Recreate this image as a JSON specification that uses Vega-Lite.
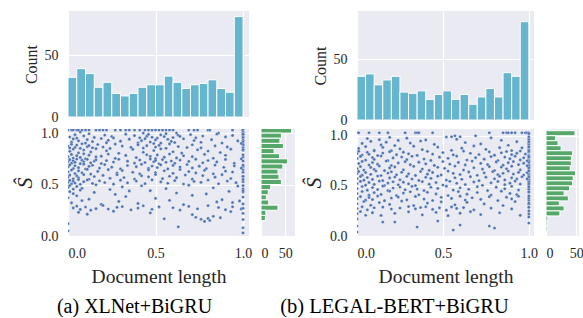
{
"$schema":"https://vega.github.io/schema/vega-lite/v6.json",
"padding":{"left":13,"top":8,"right":2,"bottom":2},
"config":{
"font":"Liberation Serif",
"view":{"fill":"#eaeaf2","stroke":null},
"axis":{"domain":false,"ticks":false,"gridColor":"#ffffff","gridWidth":1.2,"labelFont":"Liberation Serif","labelFontSize":14,"labelColor":"#262626","titleFont":"Liberation Serif","titleFontWeight":"normal","titleColor":"#262626","labelPadding":10}
},
"columns":5,
"spacing":{"row":9,"column":12},
"bounds":"flush",
"resolve":{"scale":{"x":"independent","y":"independent"}},
"concat":[
{
"width":181,"height":106,
"data":{"values":[{"b0":0,"b1":0.05,"n":32},{"b0":0.05,"b1":0.1,"n":39},{"b0":0.1,"b1":0.15,"n":35},{"b0":0.15,"b1":0.2,"n":24},{"b0":0.2,"b1":0.25,"n":28},{"b0":0.25,"b1":0.3,"n":19},{"b0":0.3,"b1":0.35,"n":17},{"b0":0.35,"b1":0.4,"n":19},{"b0":0.4,"b1":0.45,"n":24},{"b0":0.45,"b1":0.5,"n":26},{"b0":0.5,"b1":0.55,"n":26},{"b0":0.55,"b1":0.6,"n":33},{"b0":0.6,"b1":0.65,"n":28},{"b0":0.65,"b1":0.7,"n":23},{"b0":0.7,"b1":0.75,"n":26},{"b0":0.75,"b1":0.8,"n":27},{"b0":0.8,"b1":0.85,"n":30},{"b0":0.85,"b1":0.9,"n":23},{"b0":0.9,"b1":0.95,"n":20},{"b0":0.95,"b1":1,"n":81}]},
"mark":{"type":"rect","color":"#64b5cd","stroke":"#ffffff","strokeWidth":1},
"encoding":{
"x":{"field":"b0","type":"quantitative","scale":{"domain":[0,1.034],"nice":false,"zero":false},"axis":{"values":[0,0.5,1],"labels":false,"title":null}},
"x2":{"field":"b1"},
"y":{"field":"n","type":"quantitative","scale":{"domain":[0,85.5],"nice":false},"axis":{"values":[0,50],"title":"Count","titleFontSize":16,"titlePadding":5}},
"y2":{"datum":0}
}
},
{"width":34,"height":1,"data":{"values":[{}]},"mark":{"type":"point","opacity":0},"encoding":{},"view":{"fill":null,"stroke":null}},
{"width":38,"height":1,"data":{"values":[{}]},"mark":{"type":"point","opacity":0},"encoding":{},"view":{"fill":null,"stroke":null}},
{
"width":177,"height":109,
"data":{"values":[{"b0":0,"b1":0.05,"n":36},{"b0":0.05,"b1":0.1,"n":38},{"b0":0.1,"b1":0.15,"n":29},{"b0":0.15,"b1":0.2,"n":33},{"b0":0.2,"b1":0.25,"n":36},{"b0":0.25,"b1":0.3,"n":23},{"b0":0.3,"b1":0.35,"n":22},{"b0":0.35,"b1":0.4,"n":24},{"b0":0.4,"b1":0.45,"n":17},{"b0":0.45,"b1":0.5,"n":21},{"b0":0.5,"b1":0.55,"n":24},{"b0":0.55,"b1":0.6,"n":17},{"b0":0.6,"b1":0.65,"n":21},{"b0":0.65,"b1":0.7,"n":13},{"b0":0.7,"b1":0.75,"n":19},{"b0":0.75,"b1":0.8,"n":26},{"b0":0.8,"b1":0.85,"n":19},{"b0":0.85,"b1":0.9,"n":39},{"b0":0.9,"b1":0.95,"n":36},{"b0":0.95,"b1":1,"n":81}]},
"mark":{"type":"rect","color":"#64b5cd","stroke":"#ffffff","strokeWidth":1},
"encoding":{
"x":{"field":"b0","type":"quantitative","scale":{"domain":[0,1.03],"nice":false,"zero":false},"axis":{"values":[0,0.5,1],"labels":false,"title":null}},
"x2":{"field":"b1"},
"y":{"field":"n","type":"quantitative","scale":{"domain":[0,89.8],"nice":false},"axis":{"values":[0,50],"title":"Count","titleFontSize":16,"titlePadding":5}},
"y2":{"datum":0}
}
},
{"width":33,"height":1,"data":{"values":[{}]},"mark":{"type":"point","opacity":0},"encoding":{},"view":{"fill":null,"stroke":null}},
{
"width":181,"height":107,
"data":{"values":[
{"x":0,"y":1.03},{"x":0.02,"y":1.03},{"x":0.03,"y":1.03},{"x":0.05,"y":1.03},{"x":0.06,"y":1.03},{"x":0.08,"y":1.03},{"x":0.1,"y":1.03},{"x":0.12,"y":1.03},{"x":0.16,"y":1.03},{"x":0.18,"y":1.03},{"x":0.2,"y":1.03},{"x":0.22,"y":1.03},{"x":0.27,"y":1.03},{"x":0.3,"y":1.03},{"x":0.33,"y":1.03},{"x":0.35,"y":1.03},{"x":0.38,"y":1.03},{"x":0.41,"y":1.03},{"x":0.44,"y":1.03},{"x":0.46,"y":1.03},{"x":0.48,"y":1.03},{"x":0.5,"y":1.03},{"x":0.52,"y":1.03},{"x":0.54,"y":1.03},{"x":0.56,"y":1.03},{"x":0.58,"y":1.03},{"x":0.6,"y":1.03},{"x":0.69,"y":1.03},{"x":0.72,"y":1.03},{"x":0.74,"y":1.03},{"x":0.8,"y":1.03},{"x":0.81,"y":1.03},{"x":0.94,"y":1.03},{"x":1,"y":1.03},{"x":0.998,"y":1.03},
{"x":0.07,"y":1.01},{"x":0.43,"y":1.0},{"x":0.62,"y":1.0},{"x":1,"y":1.01},{"x":1,"y":0.995},{"x":0.86,"y":1.0},
{"x":0.01,"y":0.962},{"x":0.04,"y":0.985},{"x":0.05,"y":0.951},{"x":0.09,"y":0.973},{"x":0.12,"y":0.994},{"x":0.15,"y":0.958},{"x":0.21,"y":0.981},{"x":0.25,"y":0.967},{"x":0.26,"y":0.953},{"x":0.33,"y":0.99},{"x":0.38,"y":0.976},{"x":0.41,"y":0.955},{"x":0.45,"y":0.97},{"x":0.46,"y":0.988},{"x":0.48,"y":0.96},{"x":0.51,"y":0.952},{"x":0.53,"y":0.983},{"x":0.55,"y":0.966},{"x":0.56,"y":0.995},{"x":0.6,"y":0.957},{"x":0.63,"y":0.979},{"x":0.64,"y":0.969},{"x":0.7,"y":0.986},{"x":0.73,"y":0.954},{"x":0.77,"y":0.972},{"x":0.85,"y":0.991},{"x":0.9,"y":0.963},{"x":0.94,"y":0.978},{"x":1,"y":0.97},{"x":1,"y":0.955},
{"x":0.02,"y":0.912},{"x":0.03,"y":0.944},{"x":0.06,"y":0.925},{"x":0.1,"y":0.903},{"x":0.11,"y":0.937},{"x":0.14,"y":0.918},{"x":0.19,"y":0.948},{"x":0.22,"y":0.907},{"x":0.23,"y":0.931},{"x":0.3,"y":0.922},{"x":0.35,"y":0.941},{"x":0.4,"y":0.905},{"x":0.42,"y":0.927},{"x":0.44,"y":0.946},{"x":0.47,"y":0.914},{"x":0.5,"y":0.934},{"x":0.53,"y":0.902},{"x":0.57,"y":0.94},{"x":0.59,"y":0.92},{"x":0.61,"y":0.909},{"x":0.66,"y":0.945},{"x":0.72,"y":0.928},{"x":0.76,"y":0.911},{"x":0.82,"y":0.936},{"x":0.88,"y":0.904},{"x":0.97,"y":0.924},{"x":1,"y":0.93},{"x":1,"y":0.915},
{"x":0,"y":0.873},{"x":0.01,"y":0.856},{"x":0.02,"y":0.892},{"x":0.04,"y":0.861},{"x":0.05,"y":0.884},{"x":0.07,"y":0.852},{"x":0.08,"y":0.897},{"x":0.11,"y":0.868},{"x":0.12,"y":0.879},{"x":0.14,"y":0.858},{"x":0.17,"y":0.889},{"x":0.2,"y":0.865},{"x":0.24,"y":0.851},{"x":0.27,"y":0.893},{"x":0.31,"y":0.874},{"x":0.36,"y":0.862},{"x":0.4,"y":0.886},{"x":0.43,"y":0.855},{"x":0.45,"y":0.878},{"x":0.49,"y":0.899},{"x":0.5,"y":0.864},{"x":0.52,"y":0.881},{"x":0.56,"y":0.853},{"x":0.58,"y":0.895},{"x":0.63,"y":0.87},{"x":0.68,"y":0.86},{"x":0.71,"y":0.887},{"x":0.76,"y":0.857},{"x":0.84,"y":0.876},{"x":0.91,"y":0.866},{"x":1,"y":0.883},{"x":1,"y":0.859},
{"x":0.01,"y":0.823},{"x":0.03,"y":0.845},{"x":0.06,"y":0.808},{"x":0.09,"y":0.836},{"x":0.13,"y":0.817},{"x":0.16,"y":0.849},{"x":0.22,"y":0.829},{"x":0.29,"y":0.804},{"x":0.37,"y":0.842},{"x":0.43,"y":0.814},{"x":0.49,"y":0.831},{"x":0.53,"y":0.847},{"x":0.6,"y":0.819},{"x":0.65,"y":0.806},{"x":0.74,"y":0.838},{"x":0.8,"y":0.826},{"x":0.87,"y":0.812},{"x":0.93,"y":0.844},{"x":1,"y":0.833},
{"x":0,"y":0.772},{"x":0.02,"y":0.793},{"x":0.03,"y":0.757},{"x":0.05,"y":0.781},{"x":0.07,"y":0.764},{"x":0.09,"y":0.799},{"x":0.1,"y":0.751},{"x":0.12,"y":0.786},{"x":0.16,"y":0.769},{"x":0.19,"y":0.776},{"x":0.23,"y":0.796},{"x":0.27,"y":0.755},{"x":0.33,"y":0.783},{"x":0.39,"y":0.762},{"x":0.45,"y":0.79},{"x":0.47,"y":0.774},{"x":0.5,"y":0.753},{"x":0.51,"y":0.788},{"x":0.55,"y":0.766},{"x":0.58,"y":0.797},{"x":0.62,"y":0.759},{"x":0.66,"y":0.78},{"x":0.71,"y":0.771},{"x":0.78,"y":0.794},{"x":0.83,"y":0.756},{"x":0.9,"y":0.785},{"x":1,"y":0.768},
{"x":0,"y":0.724},{"x":0.01,"y":0.742},{"x":0.02,"y":0.708},{"x":0.03,"y":0.731},{"x":0.04,"y":0.716},{"x":0.05,"y":0.748},{"x":0.07,"y":0.703},{"x":0.08,"y":0.737},{"x":0.09,"y":0.721},{"x":0.11,"y":0.745},{"x":0.13,"y":0.711},{"x":0.15,"y":0.728},{"x":0.16,"y":0.74},{"x":0.19,"y":0.705},{"x":0.22,"y":0.733},{"x":0.26,"y":0.719},{"x":0.29,"y":0.746},{"x":0.34,"y":0.727},{"x":0.38,"y":0.709},{"x":0.41,"y":0.739},{"x":0.44,"y":0.714},{"x":0.47,"y":0.749},{"x":0.49,"y":0.722},{"x":0.5,"y":0.735},{"x":0.52,"y":0.702},{"x":0.54,"y":0.743},{"x":0.56,"y":0.717},{"x":0.59,"y":0.729},{"x":0.61,"y":0.706},{"x":0.64,"y":0.738},{"x":0.69,"y":0.725},{"x":0.73,"y":0.747},{"x":0.77,"y":0.712},{"x":0.8,"y":0.734},{"x":0.85,"y":0.72},{"x":0.9,"y":0.744},{"x":0.95,"y":0.707},{"x":1,"y":0.73},
{"x":0,"y":0.672},{"x":0.01,"y":0.691},{"x":0.03,"y":0.655},{"x":0.04,"y":0.683},{"x":0.06,"y":0.664},{"x":0.09,"y":0.698},{"x":0.1,"y":0.651},{"x":0.12,"y":0.677},{"x":0.14,"y":0.688},{"x":0.18,"y":0.66},{"x":0.21,"y":0.694},{"x":0.25,"y":0.669},{"x":0.3,"y":0.653},{"x":0.34,"y":0.685},{"x":0.39,"y":0.674},{"x":0.42,"y":0.697},{"x":0.46,"y":0.658},{"x":0.48,"y":0.68},{"x":0.51,"y":0.666},{"x":0.53,"y":0.692},{"x":0.57,"y":0.652},{"x":0.6,"y":0.686},{"x":0.64,"y":0.671},{"x":0.68,"y":0.695},{"x":0.71,"y":0.662},{"x":0.75,"y":0.679},{"x":0.79,"y":0.656},{"x":0.84,"y":0.689},{"x":0.89,"y":0.668},{"x":0.95,"y":0.682},{"x":1,"y":0.675},
{"x":0,"y":0.624},{"x":0.02,"y":0.641},{"x":0.04,"y":0.607},{"x":0.06,"y":0.633},{"x":0.08,"y":0.615},{"x":0.11,"y":0.648},{"x":0.13,"y":0.602},{"x":0.17,"y":0.628},{"x":0.23,"y":0.645},{"x":0.28,"y":0.611},{"x":0.31,"y":0.637},{"x":0.37,"y":0.62},{"x":0.41,"y":0.604},{"x":0.46,"y":0.643},{"x":0.5,"y":0.617},{"x":0.55,"y":0.634},{"x":0.6,"y":0.609},{"x":0.64,"y":0.646},{"x":0.69,"y":0.626},{"x":0.73,"y":0.613},{"x":0.78,"y":0.639},{"x":0.83,"y":0.605},{"x":0.9,"y":0.631},{"x":0.94,"y":0.622},{"x":1,"y":0.644},
{"x":0,"y":0.573},{"x":0.01,"y":0.592},{"x":0.03,"y":0.556},{"x":0.05,"y":0.584},{"x":0.06,"y":0.565},{"x":0.09,"y":0.597},{"x":0.12,"y":0.552},{"x":0.15,"y":0.578},{"x":0.2,"y":0.589},{"x":0.24,"y":0.561},{"x":0.28,"y":0.595},{"x":0.32,"y":0.569},{"x":0.38,"y":0.554},{"x":0.42,"y":0.586},{"x":0.46,"y":0.575},{"x":0.5,"y":0.598},{"x":0.54,"y":0.558},{"x":0.58,"y":0.581},{"x":0.62,"y":0.567},{"x":0.67,"y":0.593},{"x":0.71,"y":0.553},{"x":0.77,"y":0.587},{"x":0.84,"y":0.572},{"x":0.88,"y":0.596},{"x":0.93,"y":0.559},{"x":1,"y":0.58},
{"x":0,"y":0.522},{"x":0.01,"y":0.541},{"x":0.02,"y":0.507},{"x":0.03,"y":0.533},{"x":0.04,"y":0.515},{"x":0.06,"y":0.548},{"x":0.07,"y":0.503},{"x":0.09,"y":0.528},{"x":0.11,"y":0.545},{"x":0.14,"y":0.511},{"x":0.18,"y":0.537},{"x":0.21,"y":0.52},{"x":0.26,"y":0.504},{"x":0.3,"y":0.543},{"x":0.34,"y":0.517},{"x":0.39,"y":0.534},{"x":0.44,"y":0.509},{"x":0.48,"y":0.546},{"x":0.53,"y":0.526},{"x":0.57,"y":0.513},{"x":0.61,"y":0.539},{"x":0.66,"y":0.505},{"x":0.72,"y":0.531},{"x":0.76,"y":0.522},{"x":0.8,"y":0.544},{"x":0.86,"y":0.508},{"x":0.91,"y":0.535},{"x":0.96,"y":0.518},{"x":1,"y":0.527},
{"x":0,"y":0.473},{"x":0.01,"y":0.491},{"x":0.03,"y":0.456},{"x":0.05,"y":0.482},{"x":0.08,"y":0.464},{"x":0.16,"y":0.497},{"x":0.24,"y":0.452},{"x":0.31,"y":0.478},{"x":0.42,"y":0.488},{"x":0.56,"y":0.461},{"x":0.69,"y":0.494},{"x":0.83,"y":0.469},{"x":0.97,"y":0.485},{"x":1,"y":0.458},
{"x":0.01,"y":0.431},{"x":0.03,"y":0.412},{"x":0.07,"y":0.446},{"x":0.15,"y":0.424},{"x":0.27,"y":0.405},{"x":0.35,"y":0.438},{"x":0.47,"y":0.441},{"x":0.62,"y":0.418},{"x":0.79,"y":0.409},{"x":0.92,"y":0.434},{"x":1,"y":0.427},
{"x":0,"y":0.372},{"x":0.05,"y":0.391},{"x":0.12,"y":0.358},{"x":0.33,"y":0.384},{"x":0.5,"y":0.366},{"x":0.71,"y":0.395},{"x":0.88,"y":0.353},{"x":1,"y":0.379},
{"x":0.02,"y":0.322},{"x":0.08,"y":0.344},{"x":0.19,"y":0.308},{"x":0.29,"y":0.336},{"x":0.4,"y":0.317},{"x":0.58,"y":0.347},{"x":0.66,"y":0.305},{"x":0.85,"y":0.331},{"x":0.94,"y":0.326},{"x":0.98,"y":0.341},{"x":1,"y":0.312},
{"x":0.03,"y":0.273},{"x":0.05,"y":0.291},{"x":0.07,"y":0.258},{"x":0.1,"y":0.282},{"x":0.13,"y":0.251},{"x":0.16,"y":0.266},{"x":0.2,"y":0.297},{"x":0.23,"y":0.262},{"x":0.28,"y":0.279},{"x":0.31,"y":0.286},{"x":0.36,"y":0.254},{"x":0.4,"y":0.271},{"x":0.43,"y":0.294},{"x":0.48,"y":0.26},{"x":0.52,"y":0.283},{"x":0.6,"y":0.275},{"x":0.64,"y":0.252},{"x":0.69,"y":0.288},{"x":0.74,"y":0.265},{"x":0.8,"y":0.296},{"x":0.86,"y":0.277},{"x":0.9,"y":0.256},{"x":0.94,"y":0.284},{"x":0.99,"y":0.263},{"x":1,"y":0.27},
{"x":0.06,"y":0.23},{"x":0.11,"y":0.212},{"x":0.26,"y":0.241},{"x":0.47,"y":0.224},{"x":0.71,"y":0.208},{"x":0.93,"y":0.237},{"x":1,"y":0.22},
{"x":0.73,"y":0.182},{"x":0.76,"y":0.163},{"x":0.8,"y":0.171},{"x":0.83,"y":0.192},{"x":0.87,"y":0.178},{"x":0.55,"y":0.168},{"x":1,"y":0.16},
{"x":0.63,"y":0.09},{"x":0.78,"y":0.142},{"x":0.81,"y":0.151},{"x":1,"y":0.08},{"x":1,"y":0.03},{"x":0,"y":0.12},{"x":0,"y":0.05},
{"x":1,"y":0.99},{"x":1,"y":0.89},{"x":1,"y":0.84},{"x":1,"y":0.79},{"x":1,"y":0.69},{"x":1,"y":0.62},{"x":1,"y":0.58},{"x":1,"y":0.55},{"x":1,"y":0.49},{"x":1,"y":0.44},{"x":0.99,"y":0.75},{"x":0.99,"y":0.9},{"x":0.99,"y":0.66}
]},
"mark":{"type":"circle","size":10,"fill":"#4c72b0","opacity":1,"stroke":"#ffffff","strokeWidth":0.3,"clip":true},
"encoding":{
"x":{"field":"x","type":"quantitative","scale":{"domain":[0,1.034],"nice":false,"zero":false},"axis":{"values":[0,0.5,1],"format":".1f","title":"Document length","titleFontSize":19.5,"titlePadding":7}},
"y":{"field":"y","type":"quantitative","scale":{"domain":[0,1.04],"nice":false,"zero":false},"axis":{"values":[0,0.5,1],"format":".1f","title":"Ŝ","titleFontSize":22,"titleFontStyle":"italic","titlePadding":4}}
}
},
{
"width":34,"height":107,
"data":{"values":[{"b0":1.0,"b1":1.05,"n":63},{"b0":0.95,"b1":1.0,"n":42},{"b0":0.9,"b1":0.95,"n":39},{"b0":0.85,"b1":0.9,"n":46},{"b0":0.8,"b1":0.85,"n":27},{"b0":0.75,"b1":0.8,"n":38},{"b0":0.7,"b1":0.75,"n":55},{"b0":0.65,"b1":0.7,"n":45},{"b0":0.6,"b1":0.65,"n":35},{"b0":0.55,"b1":0.6,"n":37},{"b0":0.5,"b1":0.55,"n":42},{"b0":0.45,"b1":0.5,"n":20},{"b0":0.4,"b1":0.45,"n":15},{"b0":0.35,"b1":0.4,"n":11},{"b0":0.3,"b1":0.35,"n":16},{"b0":0.25,"b1":0.3,"n":35},{"b0":0.2,"b1":0.25,"n":10},{"b0":0.15,"b1":0.2,"n":9}]},
"mark":{"type":"rect","color":"#55a868","stroke":"#ffffff","strokeWidth":1,"clip":true},
"encoding":{
"y":{"field":"b0","type":"quantitative","scale":{"domain":[0,1.04],"nice":false,"zero":false},"axis":{"values":[0,0.5,1],"labels":false,"title":null}},
"y2":{"field":"b1"},
"x":{"field":"n","type":"quantitative","scale":{"domain":[0,70],"nice":false},"axis":{"values":[0,50],"title":null}},
"x2":{"datum":0}
}
},
{"width":38,"height":1,"data":{"values":[{}]},"mark":{"type":"point","opacity":0},"encoding":{},"view":{"fill":null,"stroke":null}},
{
"width":177,"height":107,
"data":{"values":[
{"x":0,"y":1.03},{"x":0.01,"y":1.03},{"x":0.07,"y":1.03},{"x":0.13,"y":1.03},{"x":0.18,"y":1.03},{"x":0.28,"y":1.03},{"x":0.34,"y":1.03},{"x":0.35,"y":1.03},{"x":0.36,"y":1.03},{"x":0.44,"y":1.03},{"x":0.77,"y":1.03},{"x":0.85,"y":1.03},{"x":0.87,"y":1.03},{"x":0.88,"y":1.03},{"x":0.9,"y":1.03},{"x":0.92,"y":1.03},{"x":0.96,"y":1.03},{"x":0.98,"y":1.03},{"x":0.99,"y":1.03},{"x":1,"y":1.03},{"x":1,"y":1.02},{"x":0.55,"y":0.99},{"x":0.57,"y":1.0},{"x":0.6,"y":0.99},{"x":0.69,"y":1.0},
{"x":0.06,"y":0.972},{"x":0.13,"y":0.961},{"x":0.19,"y":0.984},{"x":0.24,"y":0.953},{"x":0.29,"y":0.976},{"x":0.4,"y":0.958},{"x":0.52,"y":0.987},{"x":0.58,"y":0.965},{"x":0.78,"y":0.979},{"x":0.84,"y":0.955},{"x":1,"y":0.97},
{"x":0.03,"y":0.923},{"x":0.08,"y":0.944},{"x":0.14,"y":0.908},{"x":0.17,"y":0.936},{"x":0.22,"y":0.902},{"x":0.31,"y":0.927},{"x":0.37,"y":0.947},{"x":0.45,"y":0.914},{"x":0.63,"y":0.932},{"x":0.72,"y":0.918},{"x":0.88,"y":0.905},{"x":0.93,"y":0.941},{"x":1,"y":0.925},{"x":1,"y":0.91},
{"x":0.01,"y":0.873},{"x":0.05,"y":0.892},{"x":0.1,"y":0.858},{"x":0.15,"y":0.884},{"x":0.2,"y":0.851},{"x":0.25,"y":0.869},{"x":0.33,"y":0.896},{"x":0.38,"y":0.862},{"x":0.47,"y":0.887},{"x":0.55,"y":0.855},{"x":0.61,"y":0.876},{"x":0.68,"y":0.898},{"x":0.75,"y":0.864},{"x":0.83,"y":0.881},{"x":0.9,"y":0.853},{"x":0.96,"y":0.879},{"x":1,"y":0.866},{"x":1,"y":0.889},
{"x":0,"y":0.822},{"x":0.01,"y":0.846},{"x":0.03,"y":0.808},{"x":0.06,"y":0.834},{"x":0.07,"y":0.815},{"x":0.1,"y":0.849},{"x":0.12,"y":0.803},{"x":0.15,"y":0.828},{"x":0.19,"y":0.841},{"x":0.23,"y":0.811},{"x":0.27,"y":0.836},{"x":0.3,"y":0.82},{"x":0.35,"y":0.804},{"x":0.41,"y":0.844},{"x":0.44,"y":0.817},{"x":0.5,"y":0.832},{"x":0.56,"y":0.809},{"x":0.62,"y":0.847},{"x":0.66,"y":0.825},{"x":0.71,"y":0.813},{"x":0.77,"y":0.839},{"x":0.8,"y":0.806},{"x":0.84,"y":0.83},{"x":0.87,"y":0.843},{"x":0.9,"y":0.812},{"x":0.93,"y":0.826},{"x":0.95,"y":0.848},{"x":0.98,"y":0.818},{"x":1,"y":0.835},{"x":1,"y":0.807},{"x":1,"y":0.842},
{"x":0,"y":0.772},{"x":0.02,"y":0.794},{"x":0.05,"y":0.757},{"x":0.09,"y":0.783},{"x":0.1,"y":0.764},{"x":0.14,"y":0.798},{"x":0.18,"y":0.752},{"x":0.21,"y":0.779},{"x":0.26,"y":0.788},{"x":0.29,"y":0.761},{"x":0.32,"y":0.795},{"x":0.39,"y":0.768},{"x":0.43,"y":0.754},{"x":0.48,"y":0.786},{"x":0.53,"y":0.775},{"x":0.58,"y":0.797},{"x":0.64,"y":0.758},{"x":0.69,"y":0.781},{"x":0.74,"y":0.766},{"x":0.78,"y":0.792},{"x":0.82,"y":0.753},{"x":0.86,"y":0.787},{"x":0.89,"y":0.771},{"x":0.92,"y":0.796},{"x":0.95,"y":0.759},{"x":0.97,"y":0.78},{"x":1,"y":0.769},{"x":1,"y":0.791},{"x":1,"y":0.756},
{"x":0.01,"y":0.723},{"x":0.03,"y":0.744},{"x":0.07,"y":0.708},{"x":0.09,"y":0.733},{"x":0.12,"y":0.716},{"x":0.17,"y":0.748},{"x":0.2,"y":0.703},{"x":0.24,"y":0.729},{"x":0.28,"y":0.741},{"x":0.31,"y":0.711},{"x":0.36,"y":0.736},{"x":0.4,"y":0.72},{"x":0.45,"y":0.704},{"x":0.5,"y":0.743},{"x":0.54,"y":0.717},{"x":0.59,"y":0.734},{"x":0.63,"y":0.709},{"x":0.67,"y":0.747},{"x":0.72,"y":0.725},{"x":0.76,"y":0.713},{"x":0.81,"y":0.739},{"x":0.85,"y":0.706},{"x":0.88,"y":0.731},{"x":0.91,"y":0.742},{"x":0.94,"y":0.712},{"x":0.97,"y":0.726},{"x":1,"y":0.748},{"x":1,"y":0.715},{"x":1,"y":0.737},
{"x":0,"y":0.672},{"x":0.02,"y":0.693},{"x":0.04,"y":0.657},{"x":0.08,"y":0.684},{"x":0.1,"y":0.664},{"x":0.13,"y":0.698},{"x":0.16,"y":0.652},{"x":0.19,"y":0.679},{"x":0.22,"y":0.689},{"x":0.27,"y":0.661},{"x":0.33,"y":0.695},{"x":0.38,"y":0.668},{"x":0.42,"y":0.654},{"x":0.47,"y":0.686},{"x":0.51,"y":0.675},{"x":0.57,"y":0.697},{"x":0.62,"y":0.658},{"x":0.68,"y":0.681},{"x":0.73,"y":0.667},{"x":0.77,"y":0.692},{"x":0.8,"y":0.653},{"x":0.84,"y":0.687},{"x":0.87,"y":0.671},{"x":0.9,"y":0.696},{"x":0.95,"y":0.659},{"x":1,"y":0.68},{"x":1,"y":0.669},{"x":1,"y":0.691},
{"x":0,"y":0.623},{"x":0.01,"y":0.644},{"x":0.03,"y":0.607},{"x":0.05,"y":0.633},{"x":0.08,"y":0.615},{"x":0.11,"y":0.648},{"x":0.14,"y":0.603},{"x":0.18,"y":0.628},{"x":0.2,"y":0.641},{"x":0.23,"y":0.611},{"x":0.26,"y":0.636},{"x":0.3,"y":0.62},{"x":0.34,"y":0.604},{"x":0.37,"y":0.643},{"x":0.41,"y":0.617},{"x":0.44,"y":0.634},{"x":0.49,"y":0.609},{"x":0.53,"y":0.647},{"x":0.56,"y":0.625},{"x":0.6,"y":0.613},{"x":0.65,"y":0.639},{"x":0.7,"y":0.606},{"x":0.74,"y":0.63},{"x":0.79,"y":0.642},{"x":0.82,"y":0.612},{"x":0.85,"y":0.626},{"x":0.88,"y":0.648},{"x":0.91,"y":0.618},{"x":0.94,"y":0.635},{"x":0.97,"y":0.608},{"x":1,"y":0.643},{"x":1,"y":0.621},{"x":1,"y":0.614},{"x":0.99,"y":0.632},
{"x":0,"y":0.572},{"x":0.02,"y":0.594},{"x":0.04,"y":0.557},{"x":0.06,"y":0.583},{"x":0.09,"y":0.565},{"x":0.12,"y":0.598},{"x":0.15,"y":0.553},{"x":0.19,"y":0.579},{"x":0.22,"y":0.588},{"x":0.25,"y":0.561},{"x":0.29,"y":0.595},{"x":0.32,"y":0.568},{"x":0.36,"y":0.554},{"x":0.4,"y":0.586},{"x":0.43,"y":0.575},{"x":0.47,"y":0.597},{"x":0.52,"y":0.558},{"x":0.57,"y":0.581},{"x":0.61,"y":0.566},{"x":0.66,"y":0.592},{"x":0.71,"y":0.552},{"x":0.75,"y":0.587},{"x":0.8,"y":0.571},{"x":0.83,"y":0.596},{"x":0.86,"y":0.559},{"x":0.9,"y":0.58},{"x":0.93,"y":0.569},{"x":0.96,"y":0.591},{"x":1,"y":0.556},{"x":1,"y":0.584},{"x":1,"y":0.563},
{"x":0,"y":0.523},{"x":0.02,"y":0.545},{"x":0.05,"y":0.507},{"x":0.07,"y":0.534},{"x":0.1,"y":0.515},{"x":0.13,"y":0.548},{"x":0.16,"y":0.503},{"x":0.18,"y":0.528},{"x":0.21,"y":0.541},{"x":0.24,"y":0.511},{"x":0.27,"y":0.537},{"x":0.3,"y":0.52},{"x":0.34,"y":0.504},{"x":0.38,"y":0.543},{"x":0.42,"y":0.517},{"x":0.46,"y":0.533},{"x":0.5,"y":0.509},{"x":0.54,"y":0.546},{"x":0.58,"y":0.526},{"x":0.63,"y":0.513},{"x":0.68,"y":0.539},{"x":0.73,"y":0.505},{"x":0.78,"y":0.531},{"x":0.82,"y":0.544},{"x":0.86,"y":0.512},{"x":0.89,"y":0.527},{"x":0.92,"y":0.548},{"x":0.95,"y":0.518},{"x":1,"y":0.535},{"x":1,"y":0.508},{"x":1,"y":0.541},
{"x":0,"y":0.473},{"x":0.03,"y":0.494},{"x":0.06,"y":0.457},{"x":0.09,"y":0.484},{"x":0.12,"y":0.464},{"x":0.15,"y":0.498},{"x":0.18,"y":0.452},{"x":0.21,"y":0.479},{"x":0.25,"y":0.489},{"x":0.28,"y":0.461},{"x":0.32,"y":0.495},{"x":0.35,"y":0.468},{"x":0.39,"y":0.454},{"x":0.43,"y":0.486},{"x":0.47,"y":0.475},{"x":0.52,"y":0.497},{"x":0.56,"y":0.458},{"x":0.6,"y":0.481},{"x":0.65,"y":0.466},{"x":0.7,"y":0.492},{"x":0.76,"y":0.453},{"x":0.81,"y":0.487},{"x":0.86,"y":0.471},{"x":0.9,"y":0.496},{"x":0.94,"y":0.459},{"x":1,"y":0.48},{"x":1,"y":0.465},
{"x":0,"y":0.423},{"x":0.03,"y":0.444},{"x":0.07,"y":0.407},{"x":0.1,"y":0.433},{"x":0.14,"y":0.415},{"x":0.19,"y":0.448},{"x":0.23,"y":0.403},{"x":0.27,"y":0.428},{"x":0.31,"y":0.441},{"x":0.36,"y":0.411},{"x":0.41,"y":0.436},{"x":0.46,"y":0.42},{"x":0.53,"y":0.404},{"x":0.59,"y":0.443},{"x":0.64,"y":0.417},{"x":0.7,"y":0.434},{"x":0.78,"y":0.409},{"x":0.84,"y":0.447},{"x":0.89,"y":0.425},{"x":0.93,"y":0.413},{"x":1,"y":0.438},
{"x":0,"y":0.372},{"x":0.02,"y":0.393},{"x":0.05,"y":0.357},{"x":0.07,"y":0.384},{"x":0.09,"y":0.364},{"x":0.12,"y":0.398},{"x":0.16,"y":0.352},{"x":0.2,"y":0.379},{"x":0.24,"y":0.388},{"x":0.29,"y":0.361},{"x":0.34,"y":0.395},{"x":0.39,"y":0.368},{"x":0.44,"y":0.354},{"x":0.49,"y":0.386},{"x":0.55,"y":0.375},{"x":0.6,"y":0.397},{"x":0.63,"y":0.358},{"x":0.67,"y":0.381},{"x":0.72,"y":0.366},{"x":0.77,"y":0.392},{"x":0.82,"y":0.353},{"x":0.87,"y":0.387},{"x":0.9,"y":0.371},{"x":0.94,"y":0.396},{"x":1,"y":0.359},{"x":1,"y":0.38},
{"x":0,"y":0.322},{"x":0.04,"y":0.344},{"x":0.08,"y":0.307},{"x":0.13,"y":0.333},{"x":0.19,"y":0.315},{"x":0.26,"y":0.348},{"x":0.33,"y":0.303},{"x":0.41,"y":0.328},{"x":0.49,"y":0.341},{"x":0.57,"y":0.311},{"x":0.64,"y":0.336},{"x":0.74,"y":0.32},{"x":0.85,"y":0.304},{"x":0.92,"y":0.343},{"x":1,"y":0.317},
{"x":0,"y":0.273},{"x":0.03,"y":0.291},{"x":0.06,"y":0.262},{"x":0.1,"y":0.282},{"x":0.15,"y":0.288},{"x":0.2,"y":0.269},{"x":0.25,"y":0.279},{"x":0.3,"y":0.294},{"x":0.34,"y":0.271},{"x":0.37,"y":0.284},{"x":0.4,"y":0.292},{"x":0.44,"y":0.266},{"x":0.48,"y":0.281},{"x":0.52,"y":0.258},{"x":0.55,"y":0.29},{"x":0.58,"y":0.275},{"x":0.62,"y":0.283},{"x":0.68,"y":0.261},{"x":0.78,"y":0.278},{"x":0.9,"y":0.27},{"x":1,"y":0.286},
{"x":0,"y":0.223},{"x":0.02,"y":0.244},{"x":0.05,"y":0.207},{"x":0.09,"y":0.233},{"x":0.14,"y":0.205},{"x":0.22,"y":0.226},{"x":0.3,"y":0.241},{"x":0.38,"y":0.211},{"x":0.46,"y":0.236},{"x":0.53,"y":0.203},{"x":0.6,"y":0.228},{"x":0.66,"y":0.243},{"x":0.72,"y":0.214},{"x":0.83,"y":0.232},{"x":0.95,"y":0.206},{"x":1,"y":0.22},
{"x":0,"y":0.17},{"x":0.15,"y":0.14},{"x":0.22,"y":0.14},{"x":0.47,"y":0.15},{"x":1,"y":0.13},{"x":0.6,"y":0.11},{"x":0.35,"y":0.09},{"x":0.8,"y":0.08},{"x":0,"y":0.1},{"x":0,"y":0.04},{"x":0.56,"y":0.06},{"x":0.77,"y":0.1},
{"x":1,"y":0.99},{"x":1,"y":0.96},{"x":1,"y":0.94},{"x":1,"y":0.89},{"x":1,"y":0.85},{"x":1,"y":0.8},{"x":1,"y":0.79},{"x":1,"y":0.7},{"x":1,"y":0.68},{"x":1,"y":0.65},{"x":1,"y":0.6},{"x":1,"y":0.59},{"x":1,"y":0.54},{"x":1,"y":0.52},{"x":1,"y":0.49},{"x":1,"y":0.44},{"x":1,"y":0.4},{"x":1,"y":0.33},{"x":1,"y":0.25},{"x":1,"y":0.19},{"x":0.99,"y":0.75},{"x":0.99,"y":0.7},{"x":0.99,"y":0.57}
]},
"mark":{"type":"circle","size":10,"fill":"#4c72b0","opacity":1,"stroke":"#ffffff","strokeWidth":0.3,"clip":true},
"encoding":{
"x":{"field":"x","type":"quantitative","scale":{"domain":[0,1.03],"nice":false,"zero":false},"axis":{"values":[0,0.5,1],"format":".1f","title":"Document length","titleFontSize":19.5,"titlePadding":7}},
"y":{"field":"y","type":"quantitative","scale":{"domain":[0,1.067],"nice":false,"zero":false},"axis":{"values":[0,0.5,1],"format":".1f","title":"Ŝ","titleFontSize":22,"titleFontStyle":"italic","titlePadding":4}}
}
},
{
"width":33,"height":107,
"data":{"values":[{"b0":1.0,"b1":1.05,"n":48},{"b0":0.95,"b1":1.0,"n":16},{"b0":0.9,"b1":0.95,"n":20},{"b0":0.85,"b1":0.9,"n":25},{"b0":0.8,"b1":0.85,"n":44},{"b0":0.75,"b1":0.8,"n":42},{"b0":0.7,"b1":0.75,"n":42},{"b0":0.65,"b1":0.7,"n":40},{"b0":0.6,"b1":0.65,"n":49},{"b0":0.55,"b1":0.6,"n":45},{"b0":0.5,"b1":0.55,"n":44},{"b0":0.45,"b1":0.5,"n":39},{"b0":0.4,"b1":0.45,"n":30},{"b0":0.35,"b1":0.4,"n":37},{"b0":0.3,"b1":0.35,"n":22},{"b0":0.25,"b1":0.3,"n":30},{"b0":0.2,"b1":0.25,"n":23},{"b0":0.15,"b1":0.2,"n":3},{"b0":0.1,"b1":0.15,"n":2},{"b0":0.05,"b1":0.1,"n":2}]},
"mark":{"type":"rect","color":"#55a868","stroke":"#ffffff","strokeWidth":1,"clip":true},
"encoding":{
"y":{"field":"b0","type":"quantitative","scale":{"domain":[0,1.067],"nice":false,"zero":false},"axis":{"values":[0,0.5,1],"labels":false,"title":null}},
"y2":{"field":"b1"},
"x":{"field":"n","type":"quantitative","scale":{"domain":[0,54.6],"nice":false},"axis":{"values":[0,50],"title":null}},
"x2":{"datum":0}
}
},
{"width":181,"height":20,"data":{"values":[{"cap":"(a) XLNet+BiGRU"}]},"mark":{"type":"text","font":"Liberation Serif","fontSize":20,"color":"#000000","dx":-24,"dy":52},"encoding":{"text":{"field":"cap"}},"view":{"fill":null,"stroke":null}},
{"width":34,"height":1,"data":{"values":[{}]},"mark":{"type":"point","opacity":0},"encoding":{},"view":{"fill":null,"stroke":null}},
{"width":38,"height":1,"data":{"values":[{}]},"mark":{"type":"point","opacity":0},"encoding":{},"view":{"fill":null,"stroke":null}},
{"width":177,"height":20,"data":{"values":[{"cap":"(b) LEGAL-BERT+BiGRU"}]},"mark":{"type":"text","font":"Liberation Serif","fontSize":20.5,"color":"#000000","dx":-51,"dy":52},"encoding":{"text":{"field":"cap"}},"view":{"fill":null,"stroke":null}}
]
}
